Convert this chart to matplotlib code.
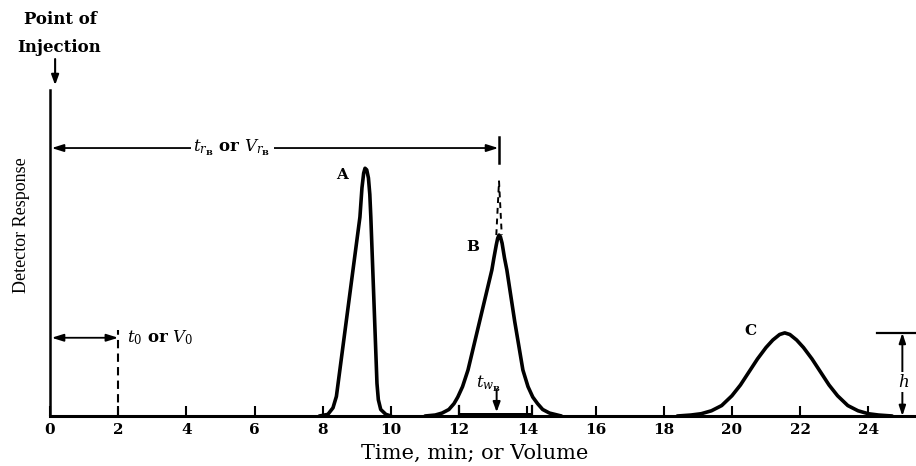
import matplotlib
matplotlib.use("Agg")
import matplotlib.pyplot as plt

plt.rcParams["mathtext.fontset"] = "dejavuserif"

# ---- data ----
peak_a_time = [7.9, 8.15, 8.3, 8.4, 8.45, 8.77, 9.09, 9.15, 9.2, 9.24, 9.29, 9.34, 9.38, 9.41, 9.5, 9.59, 9.63, 9.7, 9.85, 10.0]
peak_a_resp = [0, 0.005, 0.025, 0.06, 0.10, 0.355, 0.61, 0.70, 0.745, 0.76, 0.755, 0.73, 0.68, 0.61, 0.355, 0.10, 0.05, 0.02, 0.005, 0]

peak_b_time = [11.0, 11.3, 11.5, 11.7, 11.85, 11.96, 12.1, 12.26, 12.6, 12.96, 13.02, 13.09, 13.13, 13.17,
               13.21, 13.26, 13.33, 13.4, 13.63, 13.87, 14.02, 14.16, 14.3, 14.45, 14.65, 15.0]
peak_b_resp = [0, 0.003, 0.009, 0.02, 0.038, 0.058, 0.09, 0.141, 0.29, 0.448, 0.485, 0.525, 0.545, 0.555,
               0.55, 0.53, 0.485, 0.448, 0.29, 0.141, 0.09, 0.058, 0.038, 0.02, 0.009, 0]

peak_c_time = [18.4, 18.8, 19.1, 19.4, 19.7, 20.0, 20.25, 20.5, 20.75, 21.0, 21.2, 21.4, 21.55, 21.7,
               21.9, 22.1, 22.35, 22.6, 22.85, 23.1, 23.4, 23.7, 24.0, 24.3, 24.7]
peak_c_resp = [0, 0.003, 0.007, 0.016, 0.032, 0.062, 0.095, 0.135, 0.175, 0.21, 0.233, 0.25, 0.255, 0.25,
               0.233, 0.21, 0.175, 0.135, 0.095, 0.062, 0.032, 0.016, 0.007, 0.003, 0]

peak_labels = ["A", "B", "C"]
tick_values = [0, 2, 4, 6, 8, 10, 12, 14, 16, 18, 20, 22, 24]
tick_labels = ["0", "2", "4", "6", "8", "10", "12", "14", "16", "18", "20", "22", "24"]

t0 = 2.0          # dead time
tr_b = 13.17      # retention time of B
tw_start, tw_end = 12.0, 14.15   # peak width of B at base
h_c = 0.255       # height of peak C
tangent_apex_b = 0.72

serif_bold = dict(family="DejaVu Serif", weight="bold")

fig = plt.figure(figsize=(9.16, 4.66), dpi=100)
ax = fig.add_axes([50 / 916, 50 / 466, 866 / 916, 326 / 466])
ax.set_xlim(0, 25.4)
ax.set_ylim(0, 1.0)

for s in ("top", "right"):
    ax.spines[s].set_visible(False)
ax.spines["left"].set_linewidth(1.8)
ax.spines["bottom"].set_linewidth(2.2)
ax.set_yticks([])
ax.set_xticks(tick_values)
ax.set_xticklabels(tick_labels, fontsize=11, **serif_bold)
ax.tick_params(axis="x", direction="in", length=7, width=1.5, pad=5)

lw = 2.6
for tt, rr in ((peak_a_time, peak_a_resp), (peak_b_time, peak_b_resp), (peak_c_time, peak_c_resp)):
    ax.plot(tt, rr, color="black", lw=lw, solid_joinstyle="round", solid_capstyle="round")

# peak letters
ax.text(8.56, 0.739, peak_labels[0], fontsize=11, ha="center", va="center", **serif_bold)
ax.text(12.4, 0.518, peak_labels[1], fontsize=11, ha="center", va="center", **serif_bold)
ax.text(20.53, 0.262, peak_labels[2], fontsize=11, ha="center", va="center", **serif_bold)

# tangent extensions above B (dashed)
ax.plot([tr_b - 0.08, tr_b, tr_b + 0.08], [0.555, tangent_apex_b, 0.555],
        color="black", lw=1.4, linestyle=(0, (3, 2.5)))

# retention time arrow for B
ax.annotate("", xy=(0.05, 0.822), xytext=(tr_b - 0.02, 0.822),
            arrowprops=dict(arrowstyle="<|-|>,head_length=0.7,head_width=0.22", lw=1.3, color="black",
                            shrinkA=0, shrinkB=0))
ax.plot([tr_b, tr_b], [0.775, 0.855], color="black", lw=1.8)
ax.text(5.34, 0.822, r"$t_{r_\mathbf{B}}$ or $V_{r_\mathbf{B}}$", fontsize=12, ha="center", va="center",
        bbox=dict(facecolor="white", edgecolor="none", pad=2), **serif_bold)

# dead time
ax.annotate("", xy=(0.05, 0.24), xytext=(t0, 0.24),
            arrowprops=dict(arrowstyle="<|-|>,head_length=0.7,head_width=0.22", lw=1.3, color="black",
                            shrinkA=0, shrinkB=0))
ax.plot([t0, t0], [0, 0.264], color="black", lw=1.5, linestyle=(0, (4, 2.5)))
ax.text(t0 + 0.26, 0.24, r"$t_0$ or $V_0$", fontsize=12, ha="left", va="center", **serif_bold)

# peak width of B
ax.plot([tw_start, tw_end], [0.004, 0.004], color="black", lw=3.6, solid_capstyle="butt")
ax.plot([tw_start, tw_start], [0, 0.03], color="black", lw=1.6)
ax.plot([tw_end, tw_end], [0, 0.03], color="black", lw=1.6)
ax.text(12.5, 0.10, r"$t_{w_\mathbf{B}}$", fontsize=12, ha="left", va="center", **serif_bold)
ax.annotate("", xy=(13.1, 0.012), xytext=(13.1, 0.08),
            arrowprops=dict(arrowstyle="-|>,head_length=0.6,head_width=0.22", lw=1.4, color="black",
                            shrinkA=0, shrinkB=0))

# height of C
ax.plot([24.25, 25.4], [h_c, h_c], color="black", lw=1.6, clip_on=False)
ax.annotate("", xy=(25.0, h_c), xytext=(25.0, 0),
            arrowprops=dict(arrowstyle="<|-|>,head_length=0.6,head_width=0.2", lw=1.4, color="black",
                            shrinkA=0, shrinkB=0), annotation_clip=False)
ax.text(25.05, 0.104, r"$h$", fontsize=12, ha="center", va="center",
        bbox=dict(facecolor="white", edgecolor="none", pad=0.5), clip_on=False)

# point of injection
ax.annotate("", xy=(0.15, 1.015), xytext=(0.15, 1.095),
            arrowprops=dict(arrowstyle="-|>,head_length=0.6,head_width=0.22", lw=1.5, color="black",
                            shrinkA=0, shrinkB=0), annotation_clip=False)
fig.text(60 / 916, (466 - 20) / 466, "Point of", fontsize=12, ha="center", va="center", **serif_bold)
fig.text(59 / 916, (466 - 48) / 466, "Injection", fontsize=12, ha="center", va="center", **serif_bold)

fig.text(22 / 916, (466 - 225) / 466, "Detector Response", fontsize=13, rotation=90,
         ha="center", va="center", family="Liberation Serif")
fig.text(475 / 916, (466 - 453) / 466, "Time, min; or Volume", fontsize=15, ha="center", va="center",
         family="DejaVu Serif")

fig.savefig("out.png", dpi=100)
